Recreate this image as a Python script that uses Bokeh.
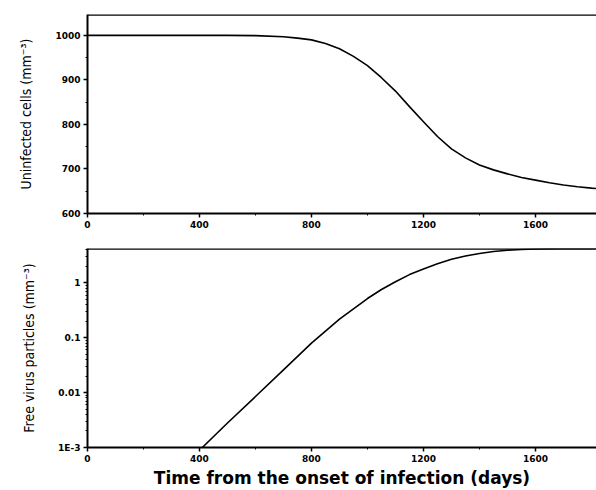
from bokeh.plotting import figure
from bokeh.layouts import column
from bokeh.models import Range1d, FixedTicker, Span
from bokeh.embed import file_html
from bokeh.resources import INLINE

# ---- data ----
cell_days = [0, 200, 400, 500, 600, 700, 750, 800, 850, 900, 950, 1000, 1050, 1100, 1150, 1200,
             1250, 1300, 1350, 1400, 1450, 1500, 1550, 1600, 1650, 1700, 1750, 1800, 1820]
cell_values = [1000, 1000, 1000, 1000, 999.5, 997, 994, 990, 982, 970, 953, 932, 905, 875, 840, 806,
               773, 745, 725, 709, 698, 689, 681, 675, 669, 664, 660, 657, 656]

virus_days = [410, 500, 600, 700, 800, 900, 1000, 1050, 1100, 1150, 1200, 1250, 1300, 1350,
              1400, 1450, 1500, 1550, 1600, 1700, 1800, 1820]
virus_values = [0.001, 0.0028, 0.0085, 0.026, 0.08, 0.22, 0.52, 0.76, 1.05, 1.42, 1.8, 2.25,
                2.7, 3.1, 3.45, 3.75, 3.95, 4.07, 4.15, 4.24, 4.28, 4.29]

x_ticks = [0, 400, 800, 1200, 1600]
x_minor = [200, 600, 1000, 1400]
cell_ticks = [600, 700, 800, 900, 1000]
cell_minor = [650, 750, 850, 950, 1050]
virus_ticks = [0.001, 0.01, 0.1, 1]
virus_tick_labels = ["1E-3", "0.01", "0.1", "1"]
virus_minor = [k * 10.0 ** e for e in (-3, -2, -1, 0) for k in range(2, 10)]

x_title = "Time from the onset of infection (days)"
cell_title = "Uninfected cells (mm\u207b\u00b3)"
virus_title = "Free virus particles (mm\u207b\u00b3)"

X_END = 1818
CELL_RANGE = (600, 1047)
VIRUS_RANGE = (0.001, 4.25)

TICK_FONT = "DejaVu Sans"
TITLE_FONT = "DejaVu Sans Condensed, Liberation Sans"


def style(p):
    p.toolbar.logo = None
    p.grid.visible = False
    p.outline_line_color = None
    p.background_fill_color = "white"
    p.border_fill_color = "white"
    for ax in p.axis:
        ax.axis_line_width = 2
        ax.axis_line_color = "black"
        ax.major_tick_line_width = 1.5
        ax.major_tick_out = 4
        ax.major_tick_in = 0
        ax.minor_tick_out = 2
        ax.minor_tick_in = 0
        ax.minor_tick_line_width = 1
        ax.major_label_text_font = TICK_FONT
        ax.major_label_text_font_style = "bold"
        ax.major_label_text_font_size = "9px"
        ax.major_label_text_color = "black"
        ax.major_label_standoff = 3
        ax.axis_label_text_color = "black"


# ---- top panel ----
p1 = figure(width=596, height=243, output_backend="svg", toolbar_location=None,
            x_range=Range1d(0, X_END), y_range=Range1d(*CELL_RANGE),
            min_border_left=87, min_border_right=0, min_border_top=14, min_border_bottom=30)
p1.line(cell_days, cell_values, line_color="black", line_width=1.6)
p1.add_layout(Span(location=CELL_RANGE[1], dimension="width", line_color="black", line_width=2.5))
style(p1)
p1.xaxis.ticker = FixedTicker(ticks=x_ticks, minor_ticks=x_minor)
p1.yaxis.ticker = FixedTicker(ticks=cell_ticks, minor_ticks=cell_minor)
p1.yaxis.axis_label = cell_title
p1.yaxis.axis_label_text_font = TITLE_FONT
p1.yaxis.axis_label_text_font_size = "14px"
p1.yaxis.axis_label_text_font_style = "normal"
p1.yaxis.axis_label_standoff = 18

# ---- bottom panel ----
p2 = figure(width=596, height=247, output_backend="svg", toolbar_location=None,
            x_range=Range1d(0, X_END), y_range=Range1d(*VIRUS_RANGE), y_axis_type="log",
            min_border_left=87, min_border_right=0, min_border_top=5, min_border_bottom=40)
p2.line(virus_days, virus_values, line_color="black", line_width=1.6)
p2.add_layout(Span(location=VIRUS_RANGE[1], dimension="width", line_color="black", line_width=2.5))
style(p2)
p2.xaxis.ticker = FixedTicker(ticks=x_ticks, minor_ticks=x_minor)
p2.yaxis.ticker = FixedTicker(ticks=virus_ticks, minor_ticks=virus_minor)
p2.yaxis.major_label_overrides = dict(zip(virus_ticks, virus_tick_labels))
p2.yaxis.axis_label = virus_title
p2.yaxis.axis_label_text_font = TITLE_FONT
p2.yaxis.axis_label_text_font_size = "14px"
p2.yaxis.axis_label_text_font_style = "normal"
p2.yaxis.axis_label_standoff = 18
p2.xaxis.axis_label = x_title
p2.xaxis.axis_label_text_font = "DejaVu Sans"
p2.xaxis.axis_label_text_font_size = "17px"
p2.xaxis.axis_label_text_font_style = "bold"
p2.xaxis.axis_label_standoff = 3

layout = column(p1, p2, spacing=0)
open("out.html", "w").write(file_html(layout, INLINE))
